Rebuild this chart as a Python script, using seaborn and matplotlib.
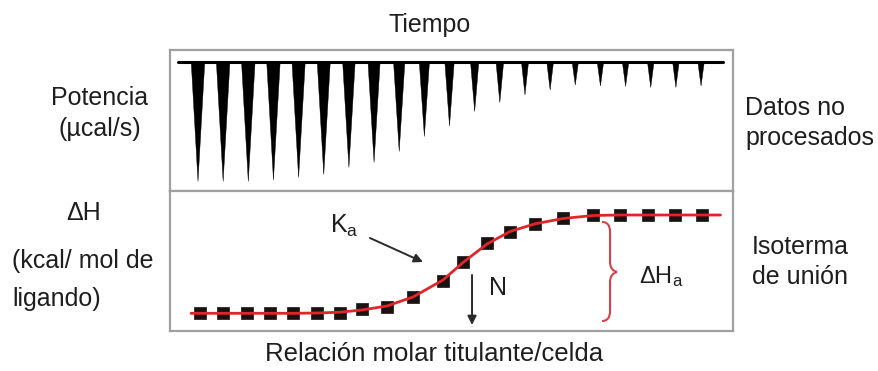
import matplotlib
matplotlib.use("Agg")
import matplotlib.pyplot as plt
import seaborn as sns
import pandas as pd
from matplotlib.path import Path
from matplotlib.patches import PathPatch, Polygon

# ---------------- data ----------------
# Raw thermogram: injection number and peak power (µcal/s, downward peaks)
injection = [1, 2, 3, 4, 5, 6, 7, 8, 9, 10, 11, 12, 13, 14, 15, 16, 17, 18, 19, 20, 21]
peak_power = [-11.9, -11.9, -11.9, -11.75, -11.5, -11.2, -10.5, -10.0, -8.9, -7.4,
              -6.35, -4.9, -4.0, -3.25, -2.75, -2.25, -2.35, -2.4, -2.5, -2.5, -2.35]

# Binding isotherm: molar ratio titrant/cell vs ΔH (kcal/mol)
molar_ratio = [0.12, 0.212, 0.308, 0.40, 0.492, 0.588, 0.68, 0.767, 0.867, 0.971, 1.091,
               1.171, 1.267, 1.359, 1.459, 1.571, 1.691, 1.799, 1.911, 2.019, 2.127]
delta_h = [-9.83, -9.83, -9.83, -9.83, -9.83, -9.83, -9.83, -9.43, -9.17, -8.17, -6.6,
           -4.67, -2.83, -1.67, -0.9, -0.33, 0.0, 0.0, 0.0, 0.0, 0.0]

# Fitted curve (red line)
fit_ratio = [0.084, 0.12, 0.212, 0.308, 0.40, 0.492, 0.588, 0.68, 0.767, 0.867, 0.971, 1.091,
             1.171, 1.267, 1.359, 1.459, 1.571, 1.691, 1.799, 1.911, 2.019, 2.127, 2.2]
fit_dh = [-9.83, -9.83, -9.83, -9.83, -9.83, -9.83, -9.8, -9.72, -9.5, -9.1, -8.2, -6.5,
          -4.75, -2.9, -1.65, -0.88, -0.35, -0.05, 0.0, 0.0, 0.0, 0.0, 0.0]

# ---------------- style ----------------
sns.set_style("white")
plt.rcParams["font.family"] = ["Liberation Sans", "DejaVu Sans"]
plt.rcParams["mathtext.fontset"] = "custom"
plt.rcParams["mathtext.rm"] = "Liberation Sans"
plt.rcParams["mathtext.it"] = "Liberation Sans:italic"
plt.rcParams["mathtext.bf"] = "Liberation Sans:bold"

W, H = 879, 371
fig = plt.figure(figsize=(W / 100, H / 100), dpi=100)
fig.patch.set_facecolor("white")

def fx(px):
    return px / W

def fy(py):
    return 1 - py / H

box_l, box_r, box_t, box_mid, box_b = 170, 733, 50, 191, 331
ax_top = fig.add_axes([fx(box_l), fy(box_mid), (box_r - box_l) / W, (box_mid - box_t) / H])
ax_bot = fig.add_axes([fx(box_l), fy(box_b), (box_r - box_l) / W, (box_b - box_mid) / H])

edge = "#a0a0a0"
for ax in (ax_top, ax_bot):
    ax.set_xticks([])
    ax.set_yticks([])
    ax.set_xlabel("")
    ax.set_ylabel("")
    for s in ax.spines.values():
        s.set_visible(True)
        s.set_color(edge)
        s.set_linewidth(1.6)

# ---------------- top panel: thermogram ----------------
ax_top.set_xlim(-0.113, 22.27)
ax_top.set_ylim(-12.85, 1.25)
px_per_unit = 25.15
maxd = max(abs(v) for v in peak_power)
for x, d in zip(injection, peak_power):
    wpx = 4.5 + 9 * abs(d) / maxd
    w = wpx / px_per_unit
    ax_top.add_patch(Polygon([(x - w / 2, 0), (x + w / 2, 0), (x, d)], closed=True,
                             facecolor="black", edgecolor="black", lw=0.3))
ax_top.axhline(0, xmin=0.0142, xmax=0.982, color="black", lw=2.2)

# ---------------- bottom panel: isotherm ----------------
ax_bot.set_xlim(0, 2.25)
ax_bot.set_ylim(-11.6, 2.4)
df = pd.DataFrame({"ratio": molar_ratio, "dh": delta_h})
fit = pd.DataFrame({"ratio": fit_ratio, "dh": fit_dh})
sns.scatterplot(data=df, x="ratio", y="dh", marker="s", s=72, color="#1a1210",
                edgecolor="#1a1210", linewidth=0.5, ax=ax_bot, zorder=2)
sns.lineplot(data=fit, x="ratio", y="dh", color="#e0262b", lw=2.0, ax=ax_bot,
             zorder=3, sort=False)
ax_bot.set_xlabel("")
ax_bot.set_ylabel("")

# Ka arrow
ax_bot.annotate("", xy=(1.011, -4.7), xytext=(0.799, -2.3),
                arrowprops=dict(arrowstyle="-|>", color="#2a2a2a", lw=1.4,
                                mutation_scale=13, shrinkA=0, shrinkB=0))
# N arrow
ax_bot.annotate("", xy=(1.207, -11.0), xytext=(1.207, -6.0),
                arrowprops=dict(arrowstyle="-|>", color="#2a2a2a", lw=1.4,
                                mutation_scale=13, shrinkA=0, shrinkB=0))

# red brace (pixel layout -> data)
def bd(px, py):
    return ((px - 170) / 250.2, -(py - 215) / 10)

brace_px = [(602, 222), (607, 222), (610, 225), (610, 232),
            (610, 262),
            (610, 268), (613, 271), (617, 272),
            (613, 273), (610, 276), (610, 282),
            (610, 311),
            (610, 318), (607, 321), (602, 321)]
codes = [Path.MOVETO, Path.CURVE4, Path.CURVE4, Path.CURVE4,
         Path.LINETO,
         Path.CURVE4, Path.CURVE4, Path.CURVE4,
         Path.CURVE4, Path.CURVE4, Path.CURVE4,
         Path.LINETO,
         Path.CURVE4, Path.CURVE4, Path.CURVE4]
ax_bot.add_patch(PathPatch(Path([bd(*p) for p in brace_px], codes), facecolor="none",
                           edgecolor="#d8404c", lw=1.5))

# ---------------- texts ----------------
tc = "#1e1e1e"
fs = 18
fig.text(fx(430), fy(32), "Tiempo", ha="center", va="baseline", fontsize=fs, color=tc)
fig.text(fx(100), fy(105), "Potencia", ha="center", va="baseline", fontsize=fs, color=tc)
fig.text(fx(100), fy(136), "(µcal/s)", ha="center", va="baseline", fontsize=fs, color=tc)
fig.text(fx(745), fy(115), "Datos no", ha="left", va="baseline", fontsize=fs, color=tc)
fig.text(fx(745), fy(145), "procesados", ha="left", va="baseline", fontsize=fs, color=tc)
fig.text(fx(84), fy(220), "ΔH", ha="center", va="baseline", fontsize=fs, color=tc)
fig.text(fx(12), fy(268), "(kcal/ mol de", ha="left", va="baseline", fontsize=fs, color=tc)
fig.text(fx(12), fy(306), "ligando)", ha="left", va="baseline", fontsize=fs, color=tc)
fig.text(fx(752), fy(254), "Isoterma", ha="left", va="baseline", fontsize=fs, color=tc)
fig.text(fx(752), fy(284), "de unión", ha="left", va="baseline", fontsize=fs, color=tc)
fig.text(fx(265), fy(361), "Relación molar titulante/celda", ha="left", va="baseline",
         fontsize=18.5, color=tc)
fig.text(fx(330), fy(233), r"K$_\mathrm{a}$", ha="left", va="baseline", fontsize=fs, color=tc)
fig.text(fx(489), fy(295), "N", ha="left", va="baseline", fontsize=fs, color=tc)
fig.text(fx(639), fy(283), r"ΔH$_\mathrm{a}$", ha="left", va="baseline", fontsize=17, color=tc)

fig.savefig("out.png", dpi=100, facecolor="white")
